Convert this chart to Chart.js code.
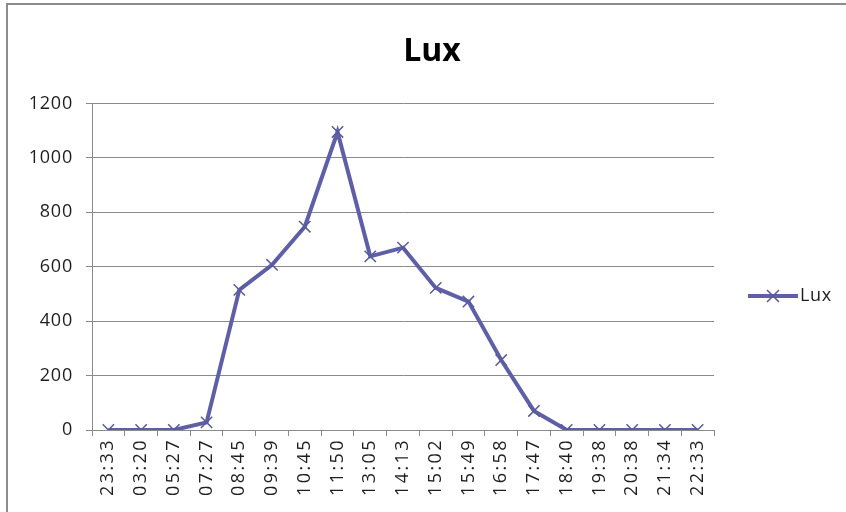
<!DOCTYPE html>
<html>
<head>
<meta charset="utf-8">
<script src="https://cdn.jsdelivr.net/npm/chart.js@4.4.1/dist/chart.umd.min.js"></script>
<style>
  html, body { margin: 0; padding: 0; background: #fff; overflow: hidden; }
  #wrap { position: relative; width: 846px; height: 512px; }
  #frame { position: absolute; left: 6px; top: 3px; width: 900px; height: 600px;
           border: 2px solid #8c8c8c; pointer-events: none; }
  canvas { position: absolute; left: 0; top: 0; }
</style>
</head>
<body>
<div id="wrap">
  <canvas id="c" width="846" height="512"></canvas>
  <div id="frame"></div>
</div>
<script>
const chartTitle = 'Lux';
const seriesName = 'Lux';
const categories = ['23:33','03:20','05:27','07:27','08:45','09:39','10:45','11:50','13:05','14:13','15:02','15:49','16:58','17:47','18:40','19:38','20:38','21:34','22:33'];
const luxValues = [0, 0, 0, 28, 515, 607, 747, 1095, 638, 670, 522, 472, 257, 70, 0, 0, 0, 0, 0];
const yTicks = [0, 200, 400, 600, 800, 1000, 1200];

const lineColor = '#5f5fa8';
const gridColor = '#8a8a8a';
const textColor = '#1e1e1e';
const FONT = '"Open Sans", Lato, sans-serif';

// widen tick label spacing to match the reference typeface
const spacingPlugin = {
  id: 'labelSpacing',
  beforeDraw(chart) {
    const spacing = { x: '2.4px', y: '0.8px' };
    Object.keys(spacing).forEach(id => {
      const scale = chart.scales[id];
      if (!scale || scale._spacingWrapped) return;
      const orig = scale.drawLabels;
      scale.drawLabels = function (area) {
        const ctx = this.ctx;
        ctx.save();
        ctx.letterSpacing = spacing[id];
        orig.call(this, area);
        ctx.restore();
      };
      scale._spacingWrapped = true;
    });
  }
};

const legendPlugin = {
  id: 'customLegend',
  afterDraw(chart) {
    const ctx = chart.ctx;
    const ds = chart.data.datasets[0];
    const y = 296;
    ctx.save();
    ctx.strokeStyle = ds.borderColor;
    ctx.lineWidth = 4;
    ctx.beginPath();
    ctx.moveTo(748, y);
    ctx.lineTo(798, y);
    ctx.stroke();
    ctx.strokeStyle = ds.pointBorderColor;
    ctx.lineWidth = 1.5;
    ctx.beginPath();
    ctx.moveTo(767, y - 6); ctx.lineTo(779, y + 6);
    ctx.moveTo(779, y - 6); ctx.lineTo(767, y + 6);
    ctx.stroke();
    ctx.fillStyle = textColor;
    ctx.font = '18px ' + FONT;
    ctx.letterSpacing = '0.6px';
    ctx.textBaseline = 'middle';
    ctx.textAlign = 'left';
    ctx.fillText(ds.label, 800, y);
    ctx.restore();
  }
};

new Chart(document.getElementById('c'), {
  type: 'line',
  data: {
    labels: categories,
    datasets: [{
      label: seriesName,
      data: luxValues,
      borderColor: lineColor,
      backgroundColor: lineColor,
      borderWidth: 4,
      pointStyle: 'crossRot',
      pointRadius: 8,
      pointBorderWidth: 1.5,
      pointBorderColor: '#5a5a9a',
      tension: 0
    }]
  },
  options: {
    responsive: false,
    animation: false,
    devicePixelRatio: 1,
    layout: { padding: { left: 18, right: 0, top: 0, bottom: 0 } },
    plugins: {
      legend: { display: false },
      tooltip: { enabled: false },
      title: {
        display: true,
        text: chartTitle,
        color: '#000',
        font: { family: FONT, size: 32, weight: 'bold', lineHeight: 1.2 },
        padding: { top: 33, bottom: 32 }
      }
    },
    scales: {
      x: {
        type: 'category',
        offset: true,
        grid: {
          offset: true,
          drawOnChartArea: false,
          drawTicks: true,
          tickLength: 6,
          color: gridColor
        },
        border: { display: true, color: gridColor, width: 1 },
        ticks: {
          color: textColor,
          font: { family: FONT, size: 18 },
          minRotation: 90,
          maxRotation: 90,
          autoSkip: false,
          padding: 2
        },
        afterFit(scale) { scale.height = 82; }
      },
      y: {
        min: 0,
        max: 1200,
        afterBuildTicks(scale) { scale.ticks = yTicks.map(v => ({ value: v })); },
        grid: {
          color: gridColor,
          drawTicks: true,
          tickLength: 6
        },
        border: { display: true, color: gridColor, width: 1 },
        ticks: {
          color: textColor,
          font: { family: FONT, size: 18 },
          padding: 13,
          callback: (v) => String(v)
        },
        afterFit(scale) { scale.width = 74; }
      },
      rightSpace: {
        type: 'linear',
        position: 'right',
        display: true,
        grid: { display: false, drawTicks: false },
        border: { display: false },
        ticks: { display: false },
        afterFit(scale) { scale.width = 132; }
      }
    }
  },
  plugins: [spacingPlugin, legendPlugin]
});
</script>
</body>
</html>
